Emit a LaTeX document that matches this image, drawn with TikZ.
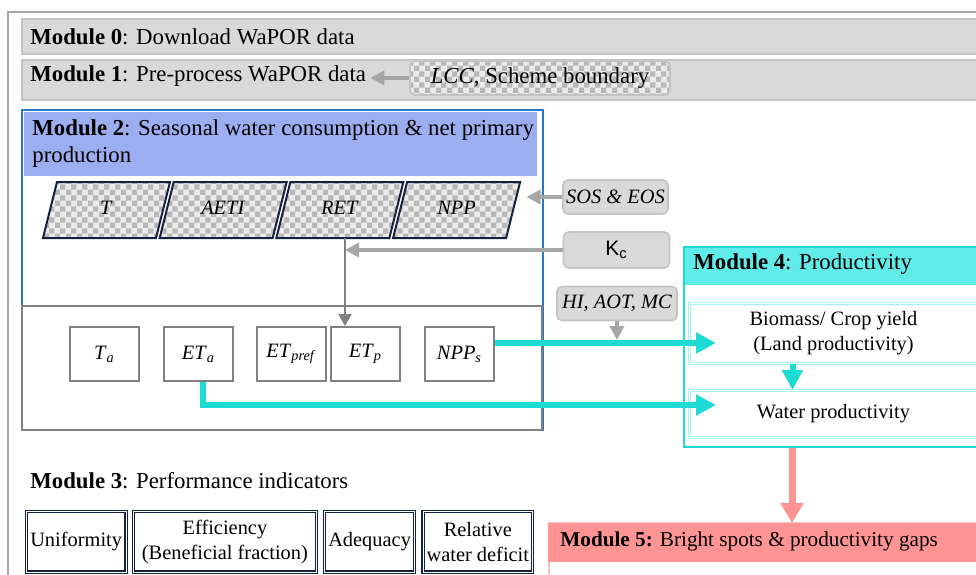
\documentclass[tikz,border=0pt]{standalone}
\usepackage{fontspec}
\setmainfont{Liberation Serif}
\newfontfamily\arialfont{Liberation Sans}
\usetikzlibrary{arrows.meta,positioning,patterns.meta}
\definecolor{framegray}{HTML}{A6A6A6}
\definecolor{barfill}{HTML}{D9D9D9}
\definecolor{barline}{HTML}{C4C4C4}
\definecolor{modblue}{HTML}{2878C8}
\definecolor{headblue}{HTML}{9DAEF0}
\definecolor{navy}{HTML}{14203F}
\definecolor{boxgray}{HTML}{808080}
\definecolor{aqua}{HTML}{1CDAD4}
\definecolor{headaqua}{HTML}{60ECE8}
\definecolor{paleaqua}{HTML}{A6F2EE}
\definecolor{salmon}{HTML}{FF9494}
\definecolor{palesalmon}{HTML}{FFBDBD}
\definecolor{checkgray}{HTML}{B8B8B8}
\definecolor{checkbase}{HTML}{EBEBEB}

\tikzdeclarepattern{
  name=checks,
  type=uncolored,
  bounding box={(0pt,0pt) and (5.6pt,5.6pt)},
  tile size={(5.6pt,5.6pt)},
  code={
    \pgfpathrectangle{\pgfpointorigin}{\pgfqpoint{2.8pt}{2.8pt}}
    \pgfpathrectangle{\pgfqpoint{2.8pt}{2.8pt}}{\pgfqpoint{2.8pt}{2.8pt}}
    \pgfusepath{fill}
  }
}

\begin{document}
\begin{tikzpicture}[x=0.5pt, y=-0.5pt,
  modtitle/.style={anchor=west, inner sep=0pt, font=\fontsize{11.4}{13.5}\selectfont},
  txt/.style={font=\fontsize{10.2}{12.5}\selectfont},
  bar/.style={fill=barfill, draw=barline, line width=0.6pt},
  checkfill/.style={preaction={fill=checkbase}, pattern={checks}, pattern color=checkgray},
  inputbox/.style={txt, draw=barline, fill=barfill, rounded corners=2.5pt,
                   line width=0.8pt, minimum height=17pt, inner sep=1pt},
  layerbox/.style={checkfill, draw=navy, line width=1pt},
  varbox/.style={txt, draw=boxgray, line width=1pt, minimum width=34.5pt,
                 minimum height=27pt, inner sep=0pt},
  indbox/.style={txt, draw=navy, double=white, line width=0.6pt, double distance=0.45pt,
                 minimum height=30.35pt, align=center, inner sep=0pt},
  prodbox/.style={txt, draw=paleaqua, double=white, line width=0.5pt, double distance=0.4pt,
                  align=center, minimum width=144pt, inner sep=0pt},
  grayarr/.style={draw=framegray, line width=2pt, -{Triangle[length=7pt,width=7pt]}},
  thinarr/.style={draw=boxgray, line width=1pt, -{Triangle[length=6pt,width=6.5pt]}},
  aquaarr/.style={draw=aqua, line width=3pt, -{Triangle[length=10pt,width=10pt]}},
  salmonarr/.style={draw=salmon, line width=3.5pt, -{Triangle[length=10pt,width=11pt]}}]
  \clip (0,0) rectangle (976,574);
  \draw[framegray, line width=1pt] (8,12) rectangle (1000,600);

  % Module 0 and 1
  \path[bar] (22,19) rectangle (1000,54);
  \node[modtitle] (m0) at (30,37) {\textbf{Module 0}: Download WaPOR data};
  \path[bar] (22,60) rectangle (1000,100);
  \node[modtitle] (m1) at (30,76) {\textbf{Module 1}: Pre-process WaPOR data};
  \node[checkfill, draw=barline, line width=0.8pt, rounded corners=3pt, minimum width=130pt,
        minimum height=15pt, font=\fontsize{11.4}{13.5}\selectfont] (lcc) at (540,78)
    {\textit{LCC}, Scheme boundary};
  \draw[grayarr, shorten >=2pt] (lcc.west) -- (lcc.west -| m1.east);

  % Module 2
  \draw[modblue, line width=1pt] (22,110) rectangle (543,430);
  \path[fill=headblue] (24,112) rectangle (537,176);
  \node[modtitle, anchor=north west, align=left] (m2) at (32,119)
    {\textbf{Module 2}: Seasonal water consumption \& net primary\\production};
  \foreach \name/\lbl [count=\i from 0] in {t/T,aeti/AETI,ret/RET,npp/NPP}{
    \pgfmathsetmacro{\xl}{43+116.7*\i}
    \draw[layerbox] (\xl,238) -- ++(113,0) -- ++(14,-56) -- ++(-113,0) -- cycle;
    \node[txt, minimum width=56.5pt, minimum height=28pt, inner sep=0pt] (\name)
      at (\xl+63.5,208) {\textit{\lbl}};
  }
  \node[inputbox, minimum width=52.5pt] (sos) at (615.5,197) {\textit{SOS \& EOS}};
  \node[inputbox, minimum width=53pt, minimum height=18pt] (kc) at (616.5,250)
    {\arialfont\fontsize{10.5}{12}\selectfont K\textsubscript{c}};
  \node[inputbox, minimum width=60pt] (hi) at (617,303.5) {\textit{HI, AOT, MC}};

  \draw[boxgray, line width=1pt] (22,306) rectangle (542,430);
  \node[varbox] (ta) at (104.5,354) {\textit{T}\textsubscript{\textit{a}}};
  \node[varbox, right=11.5pt of ta] (eta) {\textit{ET}\textsubscript{\textit{a}}};
  \node[varbox, right=11pt of eta] (etpref) {\textit{ET}\textsubscript{\textit{pref}}};
  \node[varbox, right=1.5pt of etpref] (etp) {\textit{ET}\textsubscript{\textit{p}}};
  \node[varbox, right=11.5pt of etp] (npps) {\textit{NPP}\textsubscript{\textit{s}}};

  \coordinate (retfoot) at (345,238);
  \draw[thinarr] (retfoot) -- (retfoot |- etp.north);
  \draw[grayarr] (kc.west) -- (kc.west -| retfoot);
  \draw[grayarr, shorten >=6.5pt] (sos.west) -- (sos.west -| npp.east);

  % Module 4
  \node[draw=aqua, line width=1pt, anchor=north west, minimum width=160pt,
        minimum height=100pt, inner sep=0pt] (m4box) at (683,246) {};
  \path[fill=headaqua] (685,248) rectangle (1000,285);
  \node[modtitle] (m4) at (693,264) {\textbf{Module 4}: Productivity};
  \node[prodbox, anchor=north west, minimum height=30pt] (bio) at (689,303)
    {Biomass/ Crop yield\\(Land productivity)};
  \node[prodbox, anchor=north west, minimum height=23.5pt] (wp) at (689,390)
    {Water productivity};

  \coordinate (cyanrow) at ([yshift=5.5pt]npps.east);
  \coordinate (bioin) at ([xshift=13.5pt]bio.west);
  \coordinate (wpin) at ([xshift=13.5pt,yshift=4.5pt]wp.west);
  \draw[aquaarr] (cyanrow) -- (cyanrow -| bioin);
  \draw[aquaarr] ([xshift=2pt]eta.south) |- (wpin);
  \draw[grayarr, shorten >=1.5pt] (hi.south) -- (hi.south |- cyanrow);
  \draw[aquaarr] ([xshift=-20.5pt]bio.south) -- ([xshift=-20.5pt]wp.north);

  % Module 5
  \draw[palesalmon, line width=1pt] (549,523) rectangle (1000,620);
  \node[fill=salmon, anchor=north west, minimum width=220pt, minimum height=19.5pt,
        inner sep=0pt] (m5) at (548,523) {};
  \node[modtitle, font=\fontsize{10.6}{12.5}\selectfont] (m5t) at (560,541)
    {\textbf{Module 5:} Bright spots \& productivity gaps};
  \draw[salmonarr] ([xshift=54.5pt]m4box.south west) -- ([xshift=54.5pt]m4box.south west |- m5.north);

  % Module 3
  \node[modtitle] (m3) at (30,481) {\textbf{Module 3}: Performance indicators};
  \node[indbox, anchor=north west, minimum width=49.85pt] (unif) at (25.7,510.7) {Uniformity};
  \node[indbox, minimum width=91.3pt, right=3.2pt of unif] (eff) {Efficiency\\(Beneficial fraction)};
  \node[indbox, minimum width=44.8pt, right=3.7pt of eff] (adeq) {Adequacy};
  \node[indbox, minimum width=54.8pt, right=3.7pt of adeq] (rwd) {Relative\\water deficit};
\end{tikzpicture}
\end{document}
